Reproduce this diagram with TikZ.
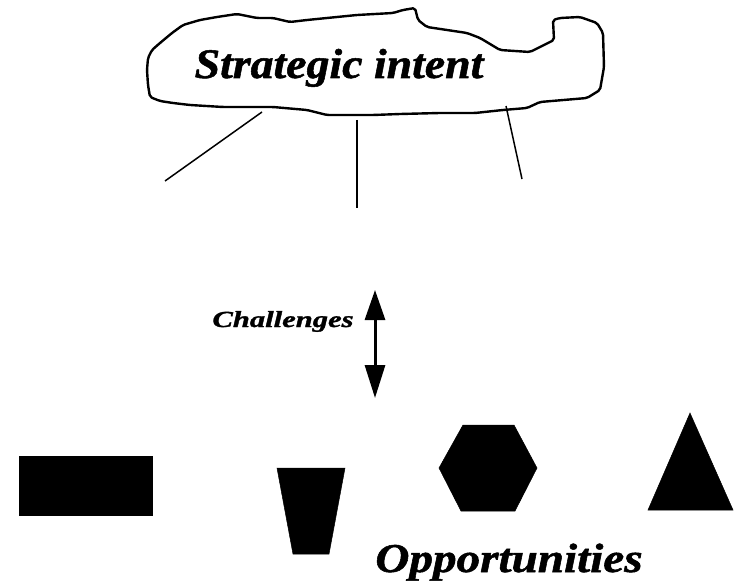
\documentclass[tikz,border=0pt]{standalone}
\usepackage{fontspec}
\setmainfont{Liberation Serif}
\newfontfamily\heavyserif[BoldItalicFeatures={FakeBold=1.2}]{Liberation Serif}
\usetikzlibrary{arrows.meta}
\tikzset{
  cloudline/.style={line width=2.4pt, line join=round, rounded corners=2pt},
  spoke/.style={line width=1.5pt},
  solidshape/.style={fill=black, draw=black, line width=0.5pt, line join=miter},
  bigtext/.style={inner sep=0pt, anchor=base},
}
\begin{document}
\begin{tikzpicture}[x=1pt,y=-1pt]
\useasboundingbox (0,0) rectangle (734,583);
% cloud
\draw[cloudline] (147,70) -- (148,58) -- (152,50) -- (160,43) -- (172,33) -- (183,25) -- (200,20) -- (217,17) -- (237,14) -- (257,18) -- (273,18) -- (290,22) -- (307,20) -- (327,18) -- (357,15) -- (393,13) -- (403,10) -- (415,8) -- (418,20) -- (427,27) -- (467,33) -- (480,38) -- (500,50) -- (530,52) -- (554,40) -- (553,20) -- (560,18) -- (580,17) -- (597,23) -- (603,33) -- (604,67) -- (600,90) -- (587,98) -- (540,102) -- (527,108) -- (503,110) -- (475,113) -- (440,113) -- (400,114) -- (373,115) -- (327,115) -- (307,110) -- (273,107) -- (240,107) -- (223,107) -- (190,105) -- (173,103) -- (160,101) -- (150,97) -- (148,85) -- cycle;
\node[bigtext, font=\fontsize{42}{48}\heavyserif\bfseries\itshape, xscale=1.09] (intent) at (339,78) {Strategic intent};
% spokes
\coordinate (s1a) at (262,112); \coordinate (s1b) at (165,181);
\coordinate (s2a) at (357,120); \coordinate (s2b) at (357,208);
\coordinate (s3a) at (506,106); \coordinate (s3b) at (522,179);
\draw[spoke] (s1a) -- (s1b);
\draw[spoke] (s2a) -- (s2b);
\draw[spoke] (s3a) -- (s3b);
% challenges
\node[bigtext, font=\fontsize{23}{27}\heavyserif\bfseries\itshape, xscale=1.33] (chal) at (283,327) {Challenges};
\coordinate (atop) at (375,290); \coordinate (abot) at (375,398);
\draw[line width=3pt, {Triangle[length=30pt,width=20pt]}-{Triangle[length=33pt,width=20pt]}] (atop) -- (abot);
% shapes
\fill[solidshape] (19,456) rectangle (152,515);
\fill[solidshape] (277,468) -- (345,468) -- (329,554) -- (293,554) -- cycle;
\fill[solidshape] (439,468) -- (463,425) -- (514,425) -- (537,468) -- (515,511) -- (461,511) -- cycle;
\fill[solidshape] (690,413) -- (733,510) -- (648,510) -- cycle;
\node[bigtext, font=\fontsize{41}{47}\heavyserif\bfseries\itshape, xscale=1.15] (opp) at (509,572) {Opportunities};
\end{tikzpicture}
\end{document}
